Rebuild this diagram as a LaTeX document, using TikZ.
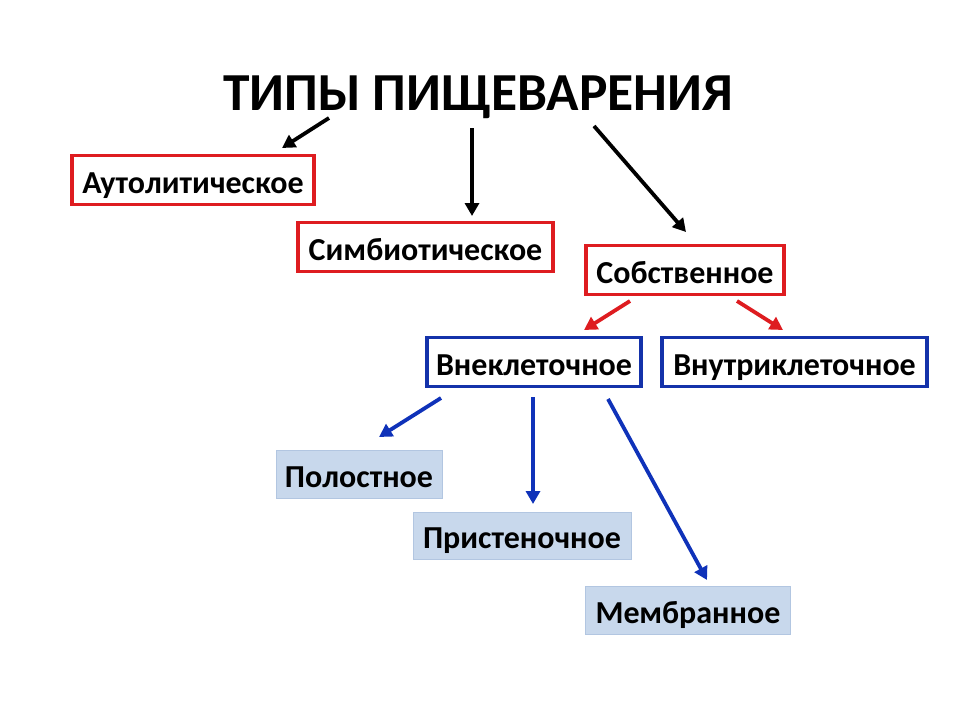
\documentclass[tikz,border=0pt]{standalone}
\usepackage{fontspec}
\setmainfont{Carlito}
\usetikzlibrary{arrows.meta}
\definecolor{myred}{RGB}{222,28,32}
\definecolor{myblue}{RGB}{20,50,170}
\definecolor{arrblue}{RGB}{15,50,185}
\definecolor{lfill}{RGB}{200,216,236}
\definecolor{lborder}{RGB}{178,198,225}
\tikzset{
  boxfont/.style={font=\fontsize{32}{32}\selectfont\bfseries, text height=26.5pt, text depth=0pt},
  redbox/.style={draw=myred, line width=3.8pt, fill=white, inner sep=0pt, align=center, boxfont},
  bluebox/.style={draw=myblue, line width=3.8pt, fill=white, inner sep=0pt, align=center, boxfont},
  fillbox/.style={draw=lborder, line width=1pt, fill=lfill, inner sep=0pt, align=center, boxfont},
  blackarrow/.style={draw=black, line width=3.8pt, -{Triangle[length=13pt,width=14pt]}},
  redarrow/.style={draw=myred, line width=3.8pt, -{Triangle[length=13pt,width=14pt]}},
  bluearrow/.style={draw=arrblue, line width=3.8pt, -{Triangle[length=13pt,width=14pt]}},
}
\begin{document}
\begin{tikzpicture}[x=1pt,y=-1pt]
\useasboundingbox (0,0) rectangle (960,720);
\fill[white] (0,0) rectangle (960,720);
\node[font=\fontsize{53.5}{53.5}\selectfont\bfseries, anchor=base, inner sep=0pt] (title) at (478,110) {ТИПЫ ПИЩЕВАРЕНИЯ};

\node[redbox, minimum width=242pt, minimum height=49pt] (auto) at (193,180) {Аутолитическое};
\node[redbox, minimum width=255pt, minimum height=49pt] (symb) at (425.5,247) {Симбиотическое};
\node[redbox, minimum width=198pt, minimum height=49pt] (own) at (685,270) {Собственное};
\node[bluebox, minimum width=214pt, minimum height=49pt] (extra) at (534,362) {Внеклеточное};
\node[bluebox, minimum width=265pt, minimum height=49pt] (intra) at (794.5,362) {Внутриклеточное};
\node[fillbox, minimum width=166pt, minimum height=48pt] (cav) at (359,474.5) {Полостное};
\node[fillbox, minimum width=218pt, minimum height=47pt] (wall) at (522,535.5) {Пристеночное};
\node[fillbox, minimum width=205pt, minimum height=48pt] (memb) at (688,610.5) {Мембранное};

\coordinate (a1s) at (329,118); \coordinate (a1e) at (282,148);
\coordinate (a2s) at (472,128); \coordinate (a2e) at (472,216);
\coordinate (a3s) at (594,126); \coordinate (a3e) at (686,232);
\coordinate (r1s) at (630,301); \coordinate (r1e) at (584,330);
\coordinate (r2s) at (737,301); \coordinate (r2e) at (783,330);
\coordinate (b1s) at (441,398); \coordinate (b1e) at (379,437);
\coordinate (b2s) at (533,397); \coordinate (b2e) at (533,504);
\coordinate (b3s) at (608,399); \coordinate (b3e) at (707,580);

\draw[blackarrow] (a1s) -- (a1e);
\draw[blackarrow] (a2s) -- (a2e);
\draw[blackarrow] (a3s) -- (a3e);
\draw[redarrow] (r1s) -- (r1e);
\draw[redarrow] (r2s) -- (r2e);
\draw[bluearrow] (b1s) -- (b1e);
\draw[bluearrow] (b2s) -- (b2e);
\draw[bluearrow] (b3s) -- (b3e);
\end{tikzpicture}
\end{document}
